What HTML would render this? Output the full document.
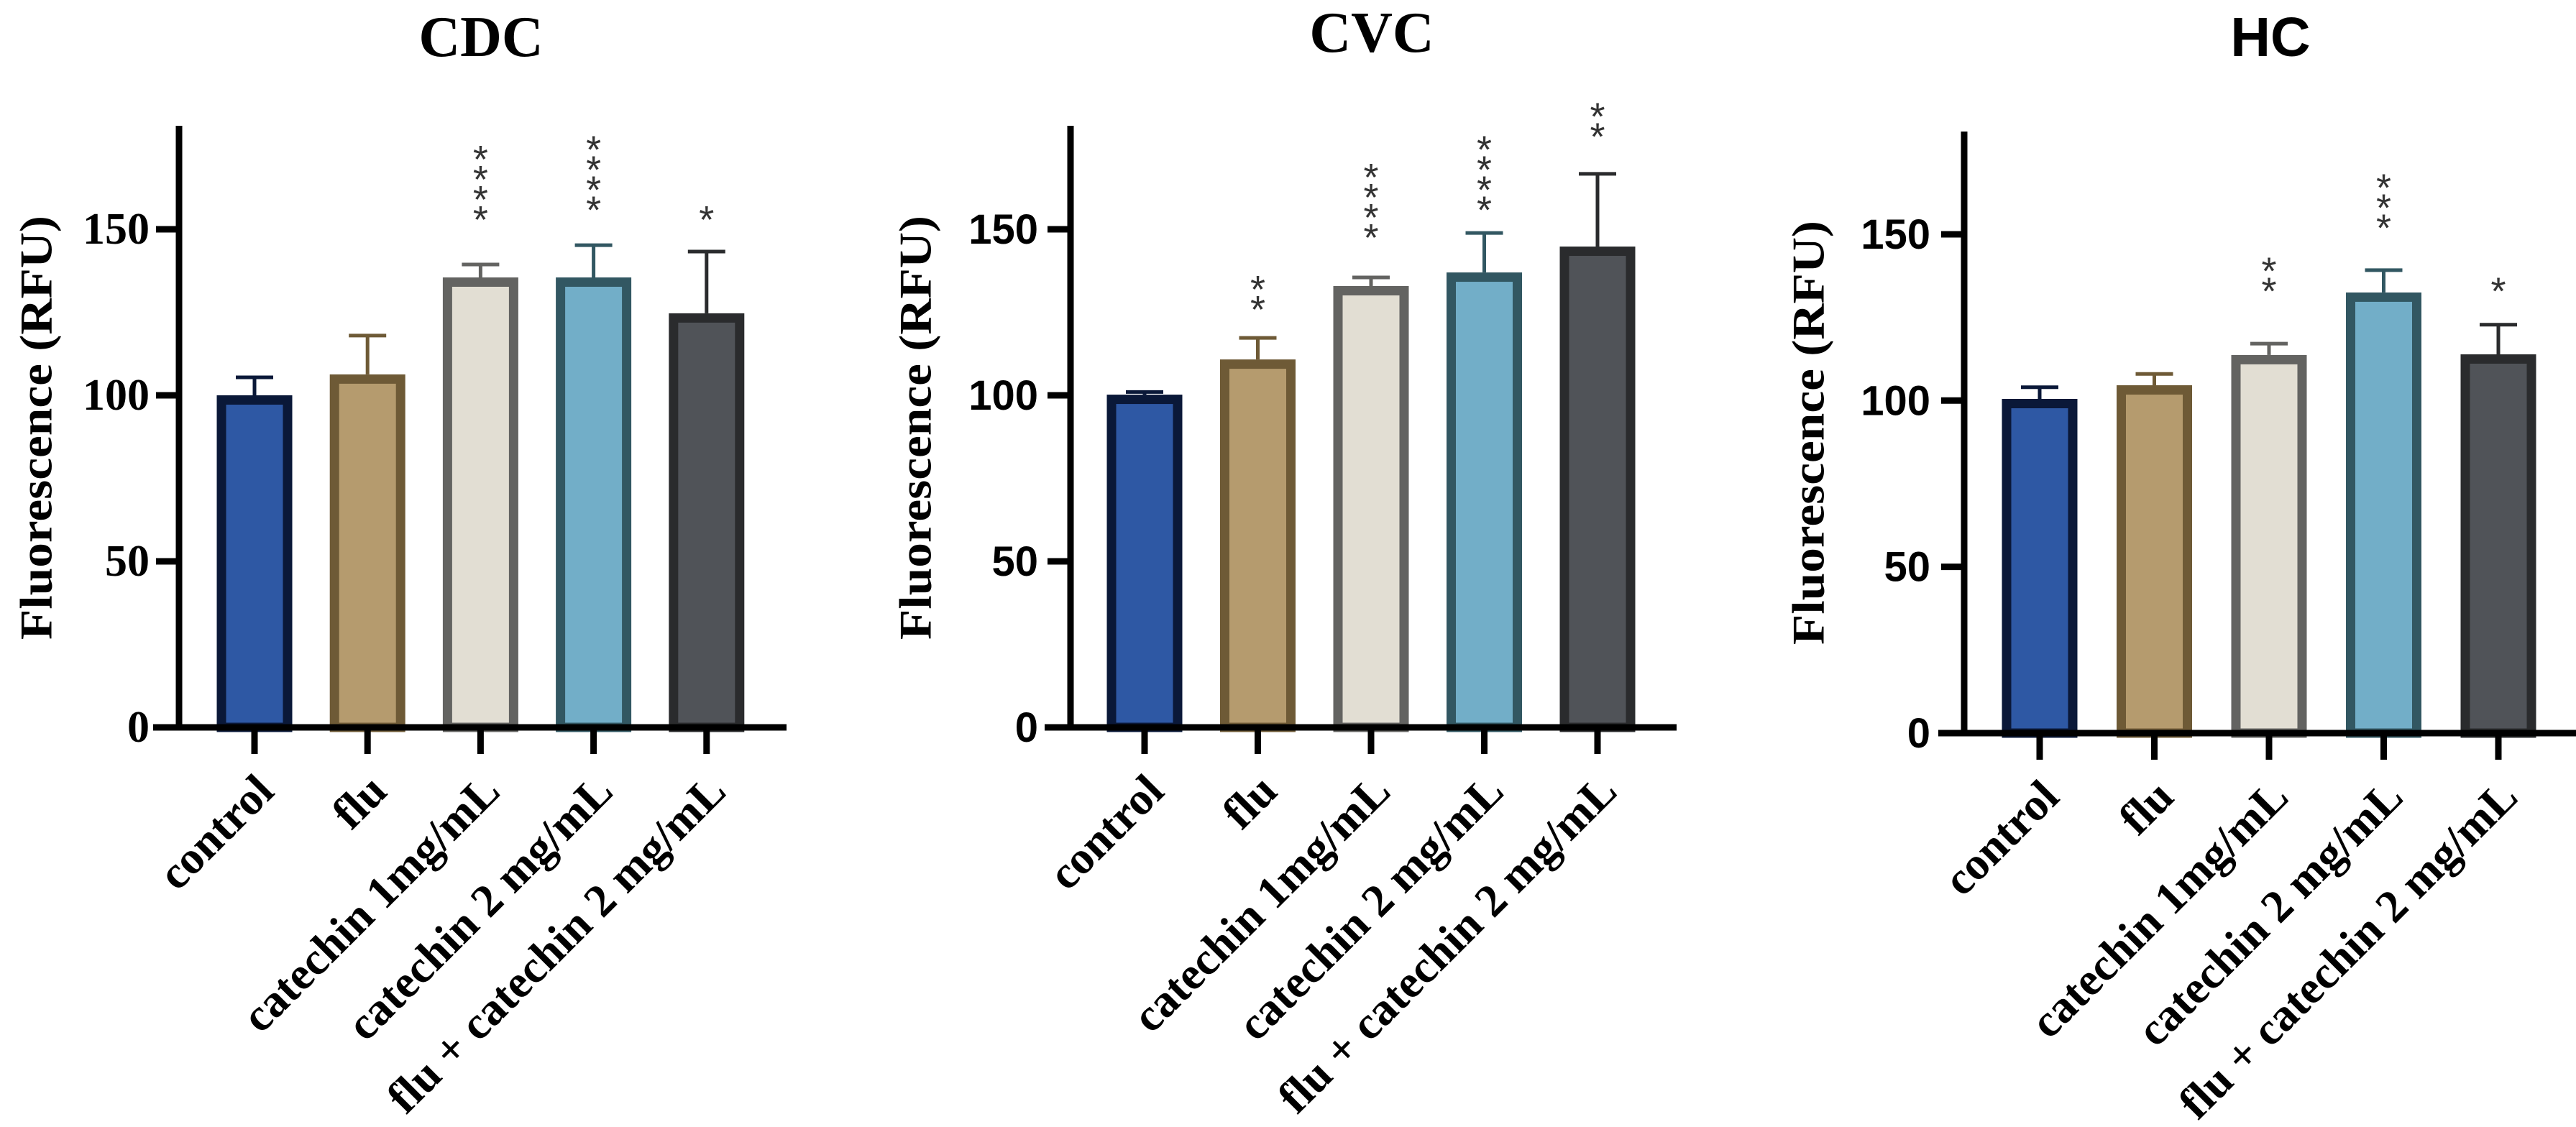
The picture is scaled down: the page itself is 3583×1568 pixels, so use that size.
<!DOCTYPE html>
<html><head><meta charset="utf-8"><style>
html,body{margin:0;padding:0;background:#fff;}
svg{display:block;}
</style></head><body>
<svg id="chart" width="3583" height="1568" viewBox="0 0 3583 1568" xmlns="http://www.w3.org/2000/svg"></svg>
<script>
const categories = ["control","flu","catechin 1mg/mL","catechin 2 mg/mL","flu + catechin 2 mg/mL"];
const yTicks = [0,50,100,150];
const cdcMeans = [100,106.3,135.5,135.5,124.7];
const cdcErrors = [105.4,118,139.4,145.2,143.3];
const cdcStars = ["","","****","****","*"];
const cdcStarBase = [0,0,153,156,153];
const cvcMeans = [100.2,110.8,132.9,137,144.8];
const cvcErrors = [101,117.3,135.5,148.9,166.7];
const cvcStars = ["","**","****","****","**"];
const cvcStarBase = [0,126,147.6,156,178];
const hcMeans = [100.5,104.6,113.7,132.5,113.9];
const hcErrors = [104,108,117.1,139.2,122.8];
const hcStars = ["","","**","***","*"];
const hcStarBase = [0,0,133,152,133];

const fills = ["#2E58A4","#B59B6E","#E2DED3","#72AEC8","#505358"];
const strokes = ["#0A1838","#6E5A36","#636361","#325762","#2A2B2D"];
const NS = "http://www.w3.org/2000/svg";
const svg = document.getElementById('chart');
function mk(tag, attrs, parent){
  const e = document.createElementNS(NS, tag);
  for (const k in attrs) e.setAttribute(k, attrs[k]);
  (parent||svg).appendChild(e);
  return e;
}
const SERIF = '"Liberation Serif", serif';
const SANS = '"Liberation Sans", sans-serif';

function panel(p){
  const g = mk('g', {});
  
  
  const y = v => p.base - v * p.ppu;
  const x = i => p.x0 + i * p.step;
  const t = mk('text', {x:p.titleX, y:p.titleY, 'font-family':p.titleFont, 'font-weight':'bold', 'font-size':p.titleSize, 'text-anchor':'middle', fill:'#000'}, g);
  t.textContent = p.name;
  
  
  const yl = mk('text', {x:0, y:0, transform:`translate(${p.ylx},${p.yly}) rotate(-90)`, 'font-family':SERIF, 'font-weight':'bold', 'font-size':64, 'text-anchor':'middle', 'dominant-baseline':'central', textLength:590, lengthAdjust:'spacingAndGlyphs', fill:'#000'}, g);
  yl.textContent = 'Fluorescence (RFU)';
  
  
  p.means.forEach((m, i) => {
    const c = x(i), w = 105, sw = 13;
    const top = y(m);
    const el = mk('line', {x1:c, x2:c, y1:top, y2:y(p.errs[i]), stroke:strokes[i], 'stroke-width':5}, g);
    
    
    const cap = mk('line', {x1:c-26, x2:c+26, y1:y(p.errs[i]), y2:y(p.errs[i]), stroke:strokes[i], 'stroke-width':5}, g);
    
    
    const r = mk('rect', {x:c - w/2 + sw/2, y:top + sw/2, width:w - sw, height:p.base - top - sw/2, fill:fills[i], stroke:strokes[i], 'stroke-width':sw}, g);
    
    
    const s = p.stars[i];
    for (let k = 0; k < s.length; k++){
      const st = mk('text', {x:c, y:y(p.starBase[i]) - k*28 + 19, 'font-family':SANS, 'font-size':54, 'text-anchor':'middle', fill:'#333'}, g);
      st.textContent = '*';
      
      
    }
    const xt = mk('line', {x1:c, x2:c, y1:p.base, y2:p.base+37, stroke:'#000', 'stroke-width':9}, g);
    
    
    const lb = mk('text', {x:0, y:0, transform:`translate(${c+30},${p.base+92}) rotate(-45)`, 'font-family':SERIF, 'font-weight':'bold', 'font-size':64, 'text-anchor':'end', fill:'#000'}, g);
    lb.textContent = categories[i];
    
    
  });
  const ya = mk('line', {x1:p.ax, x2:p.ax, y1:p.top, y2:p.base+4.5, stroke:'#000', 'stroke-width':9}, g);
  
  
  const xa = mk('line', {x1:p.ax-36, x2:p.xEnd, y1:p.base, y2:p.base, stroke:'#000', 'stroke-width':9}, g);
  
  
  yTicks.forEach(v => {
    if (v > 0){
      const tk = mk('line', {x1:p.ax-32, x2:p.ax, y1:y(v), y2:y(v), stroke:'#000', 'stroke-width':9}, g);
      
      
    }
    const tl = mk('text', {x:p.ax-p.tlOff, y:y(v)+20, 'font-family':p.tickFont, 'font-weight':'bold', 'font-size':p.tickSize, 'text-anchor':'end', fill:'#000'}, g);
    tl.textContent = v;
    
    
  });
}

panel({name:'CDC', means:cdcMeans, errs:cdcErrors, stars:cdcStars, starBase:cdcStarBase,
  ax:249, top:175, base:1012, ppu:4.62, x0:354, step:157.2, xEnd:1094,
  titleX:669, titleY:78, titleFont:SERIF, titleSize:80, ylx:50, yly:595,
  tickFont:SERIF, tickSize:62, tlOff:41});
panel({name:'CVC', means:cvcMeans, errs:cvcErrors, stars:cvcStars, starBase:cvcStarBase,
  ax:1489, top:175, base:1012, ppu:4.62, x0:1592, step:157.5, xEnd:2332,
  titleX:1908, titleY:72, titleFont:SERIF, titleSize:80, ylx:1273, yly:595,
  tickFont:SANS, tickSize:58, tlOff:45});
panel({name:'HC', means:hcMeans, errs:hcErrors, stars:hcStars, starBase:hcStarBase,
  ax:2732, top:183, base:1020, ppu:4.627, x0:2837, step:159.5, xEnd:3583,
  titleX:3158, titleY:78, titleFont:SANS, titleSize:77, ylx:2515, yly:602,
  tickFont:SANS, tickSize:58, tlOff:47});
</script>
</body></html>
